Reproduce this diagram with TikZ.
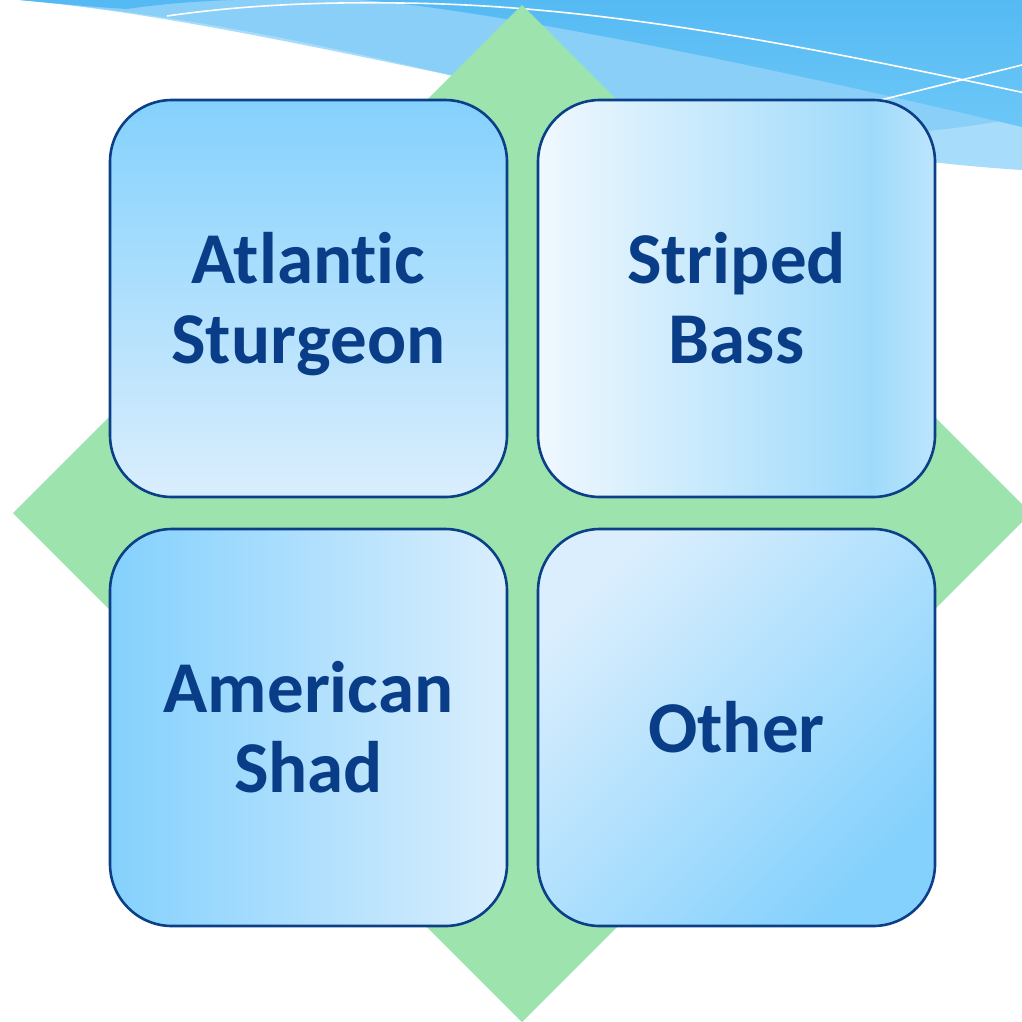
\documentclass[tikz,border=0pt]{standalone}
\usepackage{fontspec}
\setmainfont{Carlito}[Ligatures={NoCommon,NoContextual}]
\definecolor{diamondgreen}{HTML}{9CE3AE}
\definecolor{waveA}{HTML}{A7DCFA}
\definecolor{waveB}{HTML}{89CFF8}
\definecolor{waveCtop}{HTML}{55BAF3}
\definecolor{waveCbot}{HTML}{6CC7F7}
\definecolor{boxline}{HTML}{0B3F88}
\definecolor{boxtext}{HTML}{0A3D87}
\definecolor{skyA}{HTML}{84D1FD}
\definecolor{skyB}{HTML}{DAEEFD}
\definecolor{paleA}{HTML}{F0F8FE}
\definecolor{paleB}{HTML}{9FDAFB}
\definecolor{paleC}{HTML}{BDE5FC}
\pgfdeclarehorizontalshading{trshade}{100bp}{color(0bp)=(paleA); color(25bp)=(paleA); color(67bp)=(paleB); color(75bp)=(paleC); color(100bp)=(paleC)}
\tikzset{
  fishbox/.style={draw=boxline, line width=2.6pt, rounded corners=62pt,
    minimum width=397pt, minimum height=397pt, inner sep=0pt,
    align=center, text=boxtext,
    font=\fontsize{73}{80}\selectfont\bfseries},
  whiteline/.style={draw=white, line width=1.6pt}
}
\begin{document}
\begin{tikzpicture}[x=1pt,y=-1pt]
\useasboundingbox (0,0) rectangle (1022,1021);
\begin{scope}
\clip (0,0) rectangle (1022,1021);
% waves
\fill[waveA] (20,0) .. controls (300,25) and (700,150) .. (1022,170) -- (1022,0) -- cycle;
\fill[waveB] (20,0) .. controls (300,25) and (500,95) .. (620,110)
  .. controls (760,138) and (880,145) .. (1022,117) -- (1022,0) -- cycle;
\shade[top color=waveCtop, bottom color=waveCbot]
  (360,0) .. controls (450,5) and (700,50) .. (1022,127) -- (1022,0) -- cycle;
\fill[waveCtop] (20,0) .. controls (60,4) and (95,7) .. (127,9)
  .. controls (160,4) and (200,1) .. (233,0) -- cycle;
\draw[whiteline] (167,16) .. controls (250,4) and (330,2) .. (400,3)
  .. controls (600,5) and (800,45) .. (1030,94);
\draw[whiteline] (800,120) -- (1030,63);
% diamond
\fill[diamondgreen] (522,5) -- (1031,513) -- (522,1022) -- (13,513) -- cycle;
\end{scope}
% boxes
\node[fishbox, top color=skyA, bottom color=skyB] (tl) at (308.5,298.5) {Atlantic\\Stur\smash{g}eon};
\node[fishbox, shading=trshade] (tr) at (736.5,298.5) {Striped\\Bass};
\node[fishbox, left color=skyA, right color=skyB] (bl) at (308.5,727.5) {American\\Shad};
\node[fishbox, top color=skyB, bottom color=skyA, shading angle=45] (br) at (736.5,727.5) {Other};
\end{tikzpicture}
\end{document}
